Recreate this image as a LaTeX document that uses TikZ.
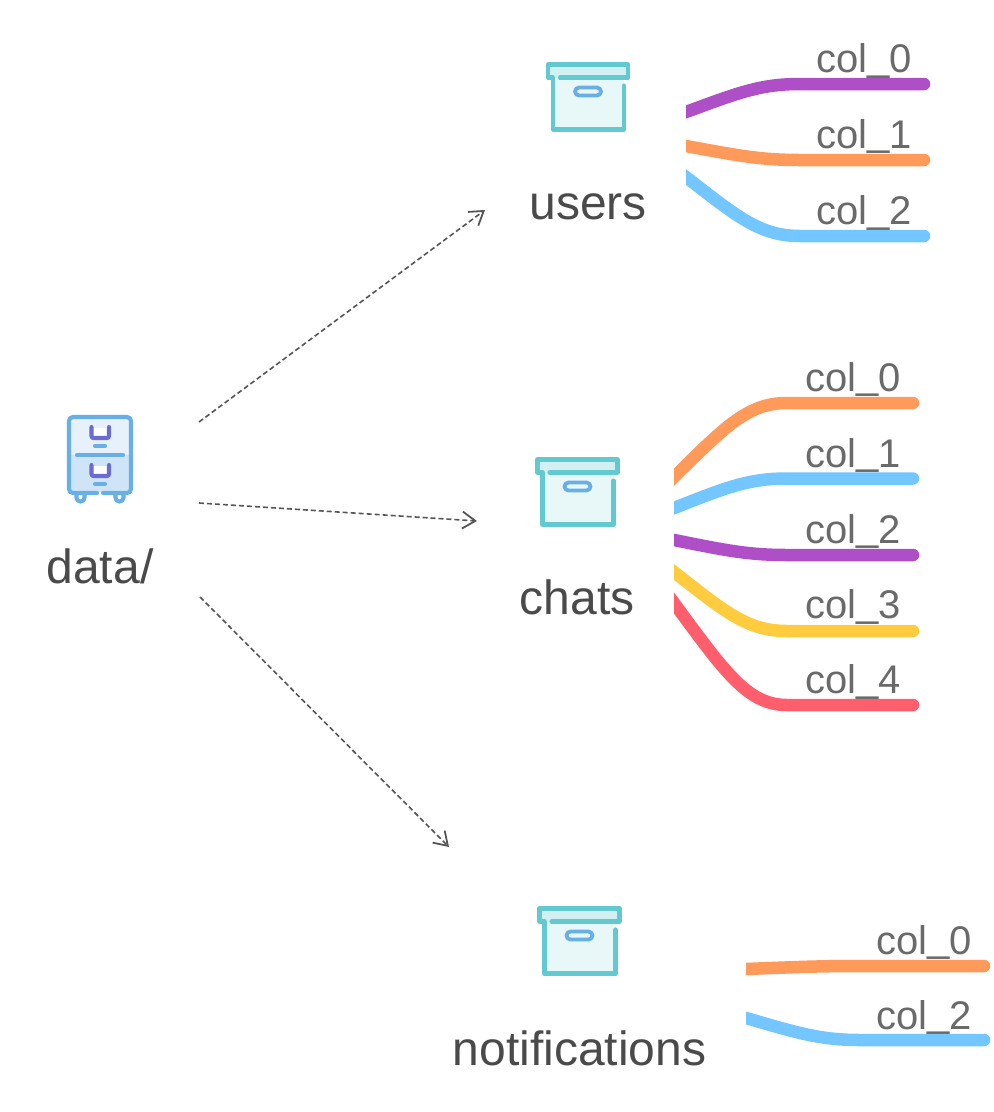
\documentclass[tikz,border=0pt]{standalone}
\usepackage{fontspec}
\setmainfont{Liberation Sans}
\usetikzlibrary{arrows.meta}
\definecolor{txtA}{HTML}{4A4A4A}
\definecolor{txtB}{HTML}{6A6A6A}
\definecolor{linkC}{HTML}{555555}
\definecolor{boxS}{HTML}{63C9D0}
\definecolor{boxL}{HTML}{D2F0F1}
\definecolor{boxF}{HTML}{E8F7F8}
\definecolor{blueS}{HTML}{68AFE6}
\definecolor{cabU}{HTML}{E6F1FB}
\definecolor{cabD}{HTML}{D0E4F7}
\definecolor{purpS}{HTML}{6C6BD4}
\definecolor{cpurple}{HTML}{AE4FC8}
\definecolor{corange}{HTML}{FF9A5A}
\definecolor{cblue}{HTML}{73C6FF}
\definecolor{cyellow}{HTML}{FFCC3F}
\definecolor{cred}{HTML}{FF5F6D}
\newcommand{\usc}{\raisebox{2.5pt}{\_}}
\tikzset{
  title/.style={inner sep=0pt,anchor=base,text=txtA,font=\fontsize{48}{48}\selectfont},
  collabel/.style={inner sep=0pt,anchor=base west,text=txtB,font=\fontsize{40}{40}\selectfont},
  link/.style={draw=linkC,line width=1.6pt,dash pattern=on 5pt off 3pt,-{Straight Barb[length=13pt,width=17pt,line width=1.8pt]}},
  icon/.style={line width=4.1pt,line cap=round,line join=round},
  archive/.pic={
    \fill[boxF] (5,13) rectangle (76,65);
    \fill[boxL] (0,0) rectangle (80,13);
    \draw[icon,draw=boxS] (12,13) -- (80,13) -- (80,0) -- (0,0) -- (0,13) -- (5,13) -- (5,65) -- (76,65) -- (76,21);
    \draw[icon,draw=blueS,line width=3.8pt,rounded corners=4pt] (27,23) rectangle (53,31);
  },
  cabinet/.pic={
    \fill[cabU] (70,418) rectangle (130,455);
    \fill[cabD] (70,455) rectangle (130,492);
    \draw[icon,draw=blueS,rounded corners=4pt] (97,493) -- (69,493) -- (69,417) -- (131,417) -- (131,493) -- (103,493);
    \draw[icon,draw=blueS] (77,455) -- (123,455);
    \draw[icon,draw=blueS] (95,446) -- (105,446);
    \draw[icon,draw=blueS] (95,484) -- (105,484);
    \draw[icon,draw=blueS,rounded corners=3.8pt] (76.5,494) -- (76.5,501.5) -- (84.5,501.5) -- (84.5,494);
    \draw[icon,draw=blueS,rounded corners=3.8pt] (115.5,494) -- (115.5,501.5) -- (123.5,501.5) -- (123.5,494);
    \fill[white] (92,428) rectangle (109,436);
    \fill[white] (92,466) rectangle (109,475);
    \draw[icon,draw=purpS,rounded corners=2pt] (91.5,427) -- (91.5,438) -- (109,438) -- (109,427);
    \draw[icon,draw=purpS,rounded corners=2pt] (91.5,465) -- (91.5,476) -- (109,476) -- (109,465);
  }
}
% colour, x0, y0, x1, y1, flat-start x
\newcommand{\stream}[6]{%
  \begin{scope}
    \clip (#2,0) rectangle (#4+10,1112);
    \draw[#1,line width=12.5pt,line cap=round]
      ({#2-20},{#3-20*1.5*(#5-#3)/(#6-#2)}) -- (#2,#3)
      .. controls ({#2+0.45*(#6-#2)},{#3+0.675*(#5-#3)}) and ({#6-0.35*(#6-#2)},#5) .. (#6,#5) -- (#4,#5);
  \end{scope}}
\begin{document}
\begin{tikzpicture}[x=1pt,y=-1pt]
\useasboundingbox (0,0) rectangle (994,1112);
\fill[white] (0,0) rectangle (994,1112);
% icons
\pic (cab) at (0,0) {cabinet};
\pic (uicon) at (548,64.5) {archive};
\pic (cicon) at (537.5,459.5) {archive};
\pic (nicon) at (539.5,908.5) {archive};
% titles
\node[title] (data) at (100,583) {data/};
\node[title] (users) at (588,219) {users};
\node[title] (chats) at (577,614) {chats};
\node[title] (notif) at (579.5,1065) {notifications};
% links
\coordinate (a1) at (199,422); \coordinate (b1) at (485,210);
\coordinate (a2) at (199,503); \coordinate (b2) at (477,521);
\coordinate (a3) at (200,597); \coordinate (b3) at (449,847);
\draw[link] (a1) -- (b1);
\draw[link] (a2) -- (b2);
\draw[link] (a3) -- (b3);
% streams: users
\stream{cpurple}{686}{112}{924}{84}{800}
\stream{corange}{686}{146}{924}{160}{800}
\stream{cblue}{686}{177}{924}{236}{800}
% streams: chats
\stream{corange}{674}{477}{913}{403}{787}
\stream{cblue}{674}{508}{913}{478.5}{787}
\stream{cpurple}{674}{540}{913}{555}{787}
\stream{cyellow}{674}{572}{913}{631}{787}
\stream{cred}{674}{603}{913}{705}{787}
% streams: notifications
\stream{corange}{746}{969}{984}{966}{860}
\stream{cblue}{746}{1018}{984}{1040}{860}
% column labels
\node[collabel] (u0) at (816,72.5) {col\usc0};
\node[collabel] (u1) at (816,148) {col\usc1};
\node[collabel] (u2) at (816,224.5) {col\usc2};
\node[collabel] (c0) at (805,391) {col\usc0};
\node[collabel] (c1) at (805,467) {col\usc1};
\node[collabel] (c2) at (805,543) {col\usc2};
\node[collabel] (c3) at (805,618.5) {col\usc3};
\node[collabel] (c4) at (805,693.5) {col\usc4};
\node[collabel] (n0) at (876,954) {col\usc0};
\node[collabel] (n2) at (876,1029) {col\usc2};
\end{tikzpicture}
\end{document}
